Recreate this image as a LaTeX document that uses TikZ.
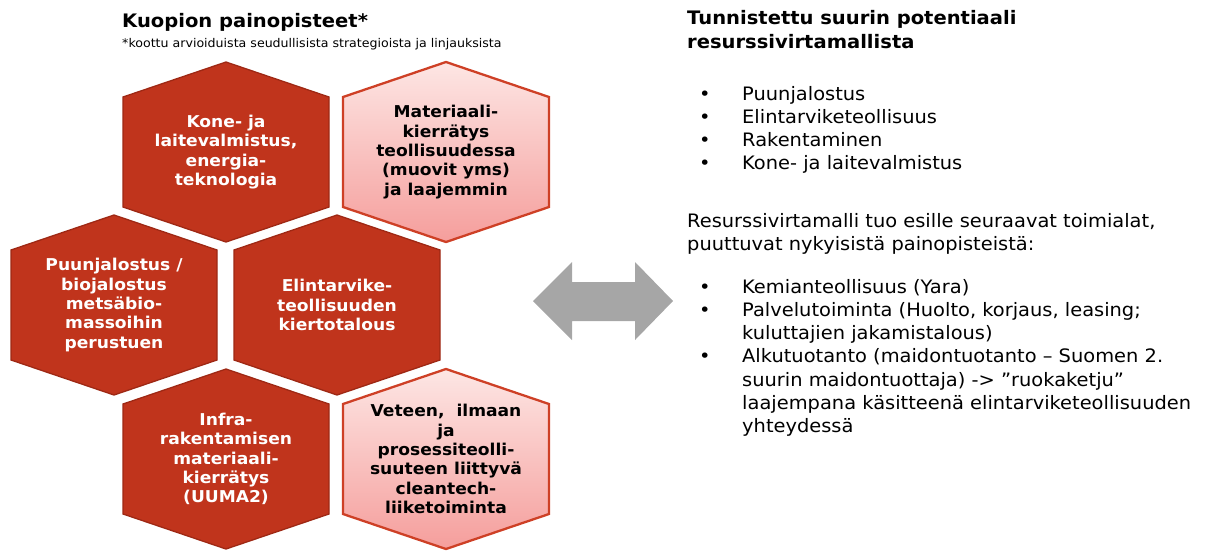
\documentclass[tikz,border=0pt]{standalone}
\usepackage{fontspec}
\setmainfont[FakeStretch=1.05]{DejaVu Sans}
\usetikzlibrary{positioning}

\definecolor{hexred}{RGB}{192,52,28}
\definecolor{hexredline}{RGB}{158,40,20}
\definecolor{hexpinktop}{RGB}{253,230,228}
\definecolor{hexpinkbot}{RGB}{245,158,156}
\definecolor{hexpinkline}{RGB}{206,64,38}
\definecolor{arrowgray}{RGB}{166,166,166}

% hexagon cell: center, name, style, text
\newcommand{\hexcell}[4]{%
  \draw[#3,shift={(#1)}] (0,-90) -- (103,-55) -- (103,55) -- (0,90)
    -- (-103,55) -- (-103,-55) -- cycle;
  \node[#3 text] (#2) at (#1) {#4};}

\begin{document}
\begin{tikzpicture}[x=1pt,y=-1pt,
  darkhex/.style={fill=hexred, draw=hexredline, line width=1.3pt},
  lighthex/.style={top color=hexpinktop, bottom color=hexpinkbot, draw=hexpinkline, line width=2.3pt},
  darkhex text/.style={text=white, align=center, inner sep=0pt, font=\bfseries\fontsize{16.3}{19.3}\selectfont},
  lighthex text/.style={text=black, align=center, inner sep=0pt, font=\bfseries\fontsize{16.3}{19.3}\selectfont},
  heading/.style={anchor=base west, inner sep=0pt, font=\bfseries\fontsize{18.6}{24}\selectfont},
  bodytext/.style={anchor=base west, inner sep=0pt, font=\fontsize{18.5}{23.3}\selectfont}]
\useasboundingbox (0,0) rectangle (1225,550);

% left: painopisteet
\node[heading] (lefttitle) at (122,27) {Kuopion painopisteet*};
\node[anchor=base west, inner sep=0pt, font=\fontsize{12}{14}\selectfont] (leftnote) at (122,47)
  {*koottu arvioiduista seudullisista strategioista ja linjauksista};

\hexcell{226,152}{kone}{darkhex}{Kone- ja\\laitevalmistus,\\energia-\\teknologia}
\hexcell{446,152}{materiaali}{lighthex}{Materiaali-\\kierrätys\\teollisuudessa\\(muovit yms)\\ja laajemmin}
\hexcell{114,305}{puu}{darkhex}{Puunjalostus /\\biojalostus\\metsäbio-\\massoihin\\perustuen}
\hexcell{337,305}{elintarvike}{darkhex}{Elintarvike-\\teollisuuden\\kiertotalous}
\hexcell{226,459}{infra}{darkhex}{Infra-\\rakentamisen\\materiaali-\\kierrätys\\(UUMA2)}
\hexcell{446,459}{vesi}{lighthex}{Veteen,\ \ ilmaan\\ja\\prosessiteolli-\\suuteen liittyvä\\cleantech-\\liiketoiminta}

% double arrow
\fill[arrowgray] (533,301) -- (572,262) -- (572,282) -- (635,282) -- (635,262) -- (673,301)
  -- (635,340) -- (635,321) -- (572,321) -- (572,340) -- cycle;

% right: resurssivirtamalli
\node[heading] (righttitle) at (687,24)
  {\begin{tabular}[t]{@{}l@{}}Tunnistettu suurin potentiaali\\resurssivirtamallista\end{tabular}};
\node[bodytext] (list1) at (699,100)
  {\begin{tabular}[t]{@{}p{43pt}@{}l@{}}
  \textbullet & Puunjalostus\\
  \textbullet & Elintarviketeollisuus\\
  \textbullet & Rakentaminen\\
  \textbullet & Kone- ja laitevalmistus
  \end{tabular}};
\node[bodytext] (para) at (687,227)
  {\begin{tabular}[t]{@{}l@{}}Resurssivirtamalli tuo esille seuraavat toimialat,\\puuttuvat nykyisistä painopisteistä:\end{tabular}};
\node[bodytext] (list2) at (699,293)
  {\begin{tabular}[t]{@{}p{43pt}@{}l@{}}
  \textbullet & Kemianteollisuus (Yara)\\
  \textbullet & Palvelutoiminta (Huolto, korjaus, leasing;\\
              & kuluttajien jakamistalous)\\
  \textbullet & Alkutuotanto (maidontuotanto – Suomen 2.\\
              & suurin maidontuottaja) -> ”ruokaketju”\\
              & laajempana käsitteenä elintarviketeollisuuden\\
              & yhteydessä
  \end{tabular}};
\end{tikzpicture}
\end{document}
